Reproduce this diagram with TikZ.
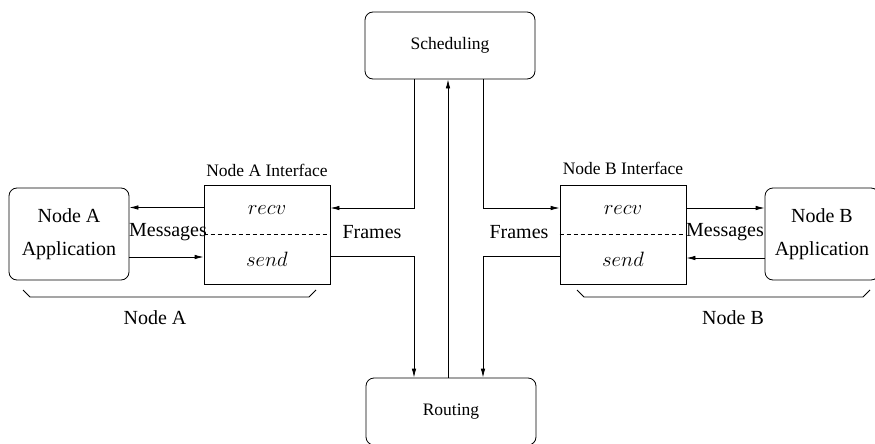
\documentclass[tikz,border=0pt]{standalone}
\usepackage{fontspec}
\setmainfont{Liberation Serif}
\usetikzlibrary{positioning,arrows.meta}
\begin{document}
\begin{tikzpicture}[x=1pt,y=-1pt,->,>={Latex[length=9pt,width=4.5pt]},line width=0.8pt,
	main node/.style={draw,rounded corners=8pt,font=\fontsize{17.5}{20}\selectfont,minimum width=170pt,minimum height=67pt},
	app node/.style={draw,rounded corners=8pt,align=center,font=\fontsize{20}{33}\selectfont,minimum height=92pt,inner sep=0pt},
	iface node/.style={draw,minimum width=126pt,minimum height=99pt},
	title/.style={font=\fontsize{17.5}{20}\selectfont},
	big/.style={font=\fontsize{20}{24}\selectfont}]
	\useasboundingbox (0,0) rectangle (875,444);
	\node[main node] (Scheduling)	at (450,45.5)	{Scheduling};
	\node[main node] (Routing)		at (451,411.5)	{Routing};
	\node[iface node] (IfaceA)		at (267,234.5)	{};
	\node[iface node] (IfaceB)		at (623,234.5)	{};
	\node[app node,minimum width=120pt] (AppA)	at (69,234)		{Node A\\Application};
	\node[app node,minimum width=114pt] (AppB)	at (822,234)	{Node B\\Application};

	\node[title] (TitleA) [above=4pt of IfaceA]	{Node A Interface};
	\node[title] (TitleB) [above=6pt of IfaceB]	{Node B Interface};
	\node[big] (RecvA) at (267,210) {$recv$};
	\node[big] (SendA) at (267,259) {$send$};
	\node[big] (RecvB) at (623,210) {$recv$};
	\node[big] (SendB) at (623,259) {$send$};
	\draw[-,dashed,dash pattern=on 4pt off 3pt] (IfaceA.west) -- (IfaceA.east);
	\draw[-,dashed,dash pattern=on 4pt off 3pt] (IfaceB.west) -- (IfaceB.east);

	\node[big] (MsgA)		at (168,232)	{Messages};
	\node[big] (MsgB)		at (725,232)	{Messages};
	\node[big] (FramesA)	at (372,232)	{Frames};
	\node[big] (FramesB)	at (519,232)	{Frames};

	% frames to and from the interfaces
	\draw ([xshift=-36pt]Scheduling.south) |- ([yshift=26.5pt]IfaceA.east);
	\draw ([yshift=-21.5pt]IfaceA.east) -| ([xshift=-37pt]Routing.north);
	\draw ([xshift=33pt]Scheduling.south) |- ([yshift=26.5pt]IfaceB.west);
	\draw ([yshift=-21.5pt]IfaceB.west) -| ([xshift=32pt]Routing.north);
	\draw ([xshift=-3pt]Routing.north) -- ([xshift=-2pt]Scheduling.south);

	% messages
	\draw ([yshift=27pt]IfaceA.west) -- ([yshift=27pt]IfaceA.west -| AppA.east);
	\draw ([yshift=-23pt]AppA.east) -- ([yshift=-23pt]AppA.east -| IfaceA.west);
	\draw ([yshift=26.5pt]IfaceB.east) -- ([yshift=26.5pt]IfaceB.east -| AppB.west);
	\draw ([yshift=-24pt]AppB.west) -- ([yshift=-24pt]AppB.west -| IfaceB.east);

	% braces
	\draw[-] (23,290) -- (30,297) -- (309,297) -- (316,290);
	\draw[-] (577,290) -- (584,297) -- (863,297) -- (870,290);
	\node[big] (NodeA) at (155,318) {Node A};
	\node[big] (NodeB) at (733,318) {Node B};
\end{tikzpicture}
\end{document}
